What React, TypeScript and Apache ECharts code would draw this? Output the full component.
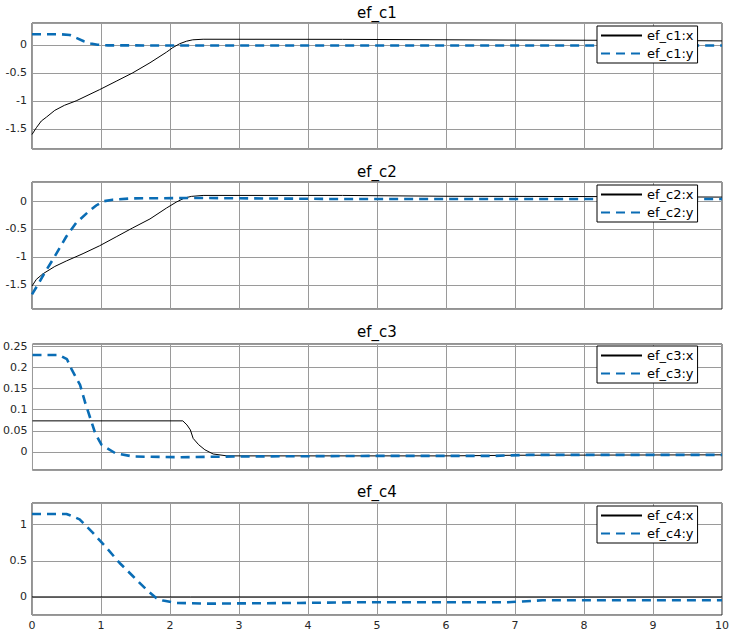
import React, { useEffect, useRef } from "react";
import * as echarts from "echarts";

const titles = ["ef_c1", "ef_c2", "ef_c3", "ef_c4"];
const xTickValues = [0, 1, 2, 3, 4, 5, 6, 7, 8, 9, 10];

// ef_c1
const c1x = [
  [0, -1.6], [0.063, -1.48], [0.135, -1.36], [0.21, -1.29], [0.33, -1.17], [0.47, -1.08],
  [0.64, -1.0], [0.98, -0.8], [1.22, -0.65], [1.46, -0.5], [1.71, -0.32], [1.95, -0.13],
  [2.04, -0.05], [2.14, 0.02], [2.24, 0.065], [2.33, 0.09], [2.48, 0.1], [4.5, 0.098],
  [7.0, 0.085], [9.0, 0.08], [10, 0.07],
];
const c1y = [
  [0, 0.19], [0.4, 0.19], [0.55, 0.175], [0.65, 0.12], [0.75, 0.065], [0.85, 0.025],
  [0.95, 0.003], [1.1, -0.01], [3, -0.012], [10, -0.012],
];
// ef_c2
const c2x = [
  [0, -1.52], [0.063, -1.4], [0.16, -1.3], [0.33, -1.17], [0.5, -1.07], [0.74, -0.94],
  [0.98, -0.8], [1.22, -0.64], [1.46, -0.48], [1.71, -0.32], [1.95, -0.125], [2.09, -0.02],
  [2.21, 0.054], [2.31, 0.083], [2.48, 0.1], [4.5, 0.1], [6.0, 0.085], [8.0, 0.08], [10, 0.07],
];
const c2y = [
  [0, -1.67], [0.087, -1.49], [0.18, -1.29], [0.3, -1.05], [0.5, -0.63], [0.64, -0.39],
  [0.81, -0.2], [0.93, -0.08], [1.03, -0.006], [1.17, 0.024], [1.46, 0.048], [2.43, 0.054],
  [4.46, 0.036], [10, 0.035],
];
// ef_c3
const c3x = [
  [0, 0.0736], [2.18, 0.0736], [2.24, 0.064], [2.29, 0.052], [2.33, 0.032], [2.41, 0.017],
  [2.5, 0.005], [2.62, -0.005], [2.82, -0.0095], [6.0, -0.0095], [7.0, -0.008], [10, -0.007],
];
const c3y = [
  [0, 0.23], [0.38, 0.23], [0.5, 0.22], [0.57, 0.195], [0.69, 0.159], [0.76, 0.119],
  [0.83, 0.084], [0.91, 0.044], [1.0, 0.017], [1.2, -0.003], [1.46, -0.011], [2.14, -0.0127],
  [2.91, -0.011], [5.0, -0.0095], [6.7, -0.0095], [7.2, -0.007], [10, -0.007],
];
// ef_c4
const c4x = [
  [0, 0], [2.3, 0], [10, 0],
];
const c4y = [
  [0, 1.148], [0.5, 1.148], [0.55, 1.13], [0.69, 1.074], [0.88, 0.89], [1.08, 0.68],
  [1.27, 0.47], [1.46, 0.29], [1.66, 0.1], [1.8, -0.014], [1.9, -0.05], [2.09, -0.083],
  [2.53, -0.093], [3.88, -0.083], [4.75, -0.074], [6.9, -0.074], [7.4, -0.046], [10, -0.045],
];

const xSeries = [c1x, c2x, c3x, c4x];
const ySeries = [c1y, c2y, c3y, c4y];
const yMin = [-1.86, -1.93, -0.043, -0.25];
const yMax = [0.39, 0.34, 0.256, 1.3];
const yStep = [0.5, 0.5, 0.05, 0.5];

export default function App() {
  const ref = useRef<HTMLDivElement>(null);
  useEffect(() => {
    document.body.style.margin = "0";
    const chart = echarts.init(ref.current!, null, { renderer: "svg" });
    const gridTop = [23, 182, 344, 503];
    const gridH = [126, 127, 126, 112];
    const legendTop = [26, 185, 346, 506];
    const titleTop = [5, 164, 324, 484];
    const font = "DejaVu Sans";
    const blue = "#0a6db5";

    const option: any = {
      animation: false,
      backgroundColor: "#fff",
      textStyle: { fontFamily: font },
      title: titles.map((t, i) => ({
        text: t,
        left: 377,
        top: titleTop[i],
        textAlign: "center",
        padding: 0,
        textStyle: { fontFamily: font, fontSize: 15, fontWeight: "normal", color: "#000" },
      })),
      grid: titles.map((_, i) => ({
        left: 32,
        width: 690,
        top: gridTop[i],
        height: gridH[i],
        show: true,
        borderColor: "#262626",
        borderWidth: 1,
        backgroundColor: "transparent",
      })),
      xAxis: titles.map((_, i) => ({
        type: "value",
        gridIndex: i,
        min: xTickValues[0],
        max: xTickValues[xTickValues.length - 1],
        interval: 1,
        axisLine: { show: false },
        axisTick: { show: false },
        axisLabel: {
          show: i === 3,
          fontFamily: font,
          fontSize: 11,
          color: "#262626",
          margin: 5,
        },
        splitLine: { show: true, lineStyle: { color: "#9a9a9a", width: 1 } },
      })),
      yAxis: titles.map((_, i) => ({
        type: "value",
        gridIndex: i,
        min: yMin[i],
        max: yMax[i],
        minInterval: yStep[i],
        maxInterval: yStep[i],
        axisLine: { show: false },
        axisTick: { show: false },
        axisLabel: {
          fontFamily: font,
          fontSize: 11,
          color: "#262626",
          margin: 5,
          showMinLabel: false,
          showMaxLabel: false,
        },
        splitLine: { show: true, lineStyle: { color: "#9a9a9a", width: 1 } },
      })),
      legend: titles.map((t, i) => ({
        data: [t + ":x", t + ":y"],
        orient: "vertical",
        left: 597,
        top: legendTop[i],
        padding: [3, 4, 3, 3],
        itemWidth: 41,
        itemHeight: 13,
        itemGap: 5,
        borderColor: "#000",
        borderWidth: 1,
        backgroundColor: "#fff",
        selectedMode: false,
        itemStyle: { color: "rgba(0,0,0,0)", borderColor: "rgba(0,0,0,0)", borderWidth: 0, opacity: 0 },
        textStyle: { fontFamily: font, fontSize: 13, color: "#000" },
      })),
      series: titles.flatMap((t, i) => [
        {
          name: t + ":x",
          type: "line",
          xAxisIndex: i,
          yAxisIndex: i,
          data: xSeries[i],
          symbol: "none",
          showSymbol: false,
          smooth: false,
          color: "#000",
          lineStyle: { color: "#000", width: 1 },
        },
        {
          name: t + ":y",
          type: "line",
          xAxisIndex: i,
          yAxisIndex: i,
          data: ySeries[i],
          symbol: "none",
          showSymbol: false,
          smooth: false,
          color: blue,
          lineStyle: { color: blue, width: 2.6, type: [9, 6] },
        },
      ]),
    };
    chart.setOption(option);
    return () => chart.dispose();
  }, []);
  return <div ref={ref} style={{ width: 736, height: 641 }} />;
}
